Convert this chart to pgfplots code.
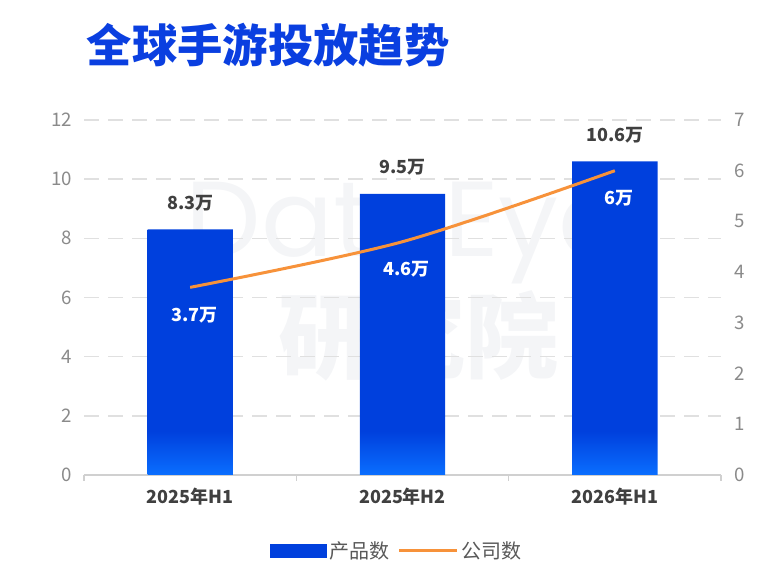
\documentclass[border=0pt]{standalone}
\usepackage{fontspec}
\setmainfont{Noto Sans CJK SC}
\newfontfamily\wmfont{Poppins}
\usepackage{pgfplots}
\pgfplotsset{compat=1.18}
\definecolor{titleblue}{HTML}{0A3FE0}
\definecolor{barblue}{HTML}{0040DD}
\definecolor{barlight}{HTML}{0A6EFF}
\definecolor{lineorange}{HTML}{F7923A}
\definecolor{tickgray}{HTML}{8A8A8A}
\definecolor{labgray}{HTML}{404040}
\definecolor{gridgray}{HTML}{E0E0E0}
\definecolor{axgray}{HTML}{D0D0D0}
\definecolor{wm}{HTML}{F4F5F7}
\pgfdeclareverticalshading{barshade}{100bp}{color(0bp)=(barlight); color(25bp)=(barlight); color(32bp)=(barblue); color(100bp)=(barblue)}
\begin{document}
\begin{tikzpicture}
\useasboundingbox (0,0) rectangle (582.75pt,429.75pt);
% watermark
\node[text=wm, font=\wmfont\fontsize{80}{80}\selectfont, anchor=base] at (304pt,237pt) {DataEye};
\node[text=wm, font=\bfseries\fontsize{70}{70}\selectfont] at (314pt,178pt) {研究院};
% title
\node[anchor=west, text=titleblue, font=\bfseries\fontsize{34}{36}\selectfont, inner sep=0pt] at (65pt,396pt) {全球手游投放趋势};
\begin{axis}[
  at={(63pt,73.5pt)}, anchor=south west,
  scale only axis, width=477.75pt, height=266.25pt,
  xmin=-0.5, xmax=2.5, ymin=0, ymax=12,
  ytick={0,2,4,6,8,10,12},
  xtick={0,1,2}, xticklabels={2025年H1,2025年H2,2026年H1},
  minor xtick={-0.5,0.5,1.5,2.5},
  separate axis lines,
  axis x line*=bottom, axis y line*=left,
  y axis line style={draw=none},
  x axis line style={draw=axgray, line width=1.2pt, -},
  tick align=outside,
  major tick length=0pt, minor tick length=4.5pt,
  minor tick style={draw=axgray, line width=1.2pt},
  ymajorgrids,
  grid style={draw=gridgray, line width=1.2pt, dash pattern=on 11pt off 7pt},
  /pgf/number format/assume math mode=true,
  yticklabel style={font=\fontsize{14}{16}\selectfont, text=tickgray, anchor=east, inner sep=0pt, xshift=-9pt},
  xticklabel style={font=\bfseries\fontsize{13.5}{16}\selectfont, text=labgray, anchor=center, yshift=-16.5pt},
  ybar, bar width=64pt,
  nodes near coords={\pgfmathprintnumber{\pgfplotspointmeta}万},
  every node near coord/.append style={font=\bfseries\fontsize{13.5}{16}\selectfont, text=labgray, anchor=center, yshift=20pt},
]
\addplot[draw=none, shading=barshade] coordinates {(0,8.3) (1,9.5) (2,10.6)};
\end{axis}
\begin{axis}[
  at={(63pt,73.5pt)}, anchor=south west,
  scale only axis, width=477.75pt, height=266.25pt,
  xmin=-0.5, xmax=2.5, ymin=0, ymax=7,
  ytick={0,1,2,3,4,5,6,7},
  axis x line=none,
  axis y line*=right,
  y axis line style={draw=none},
  major tick length=0pt,
  /pgf/number format/assume math mode=true,
  yticklabel style={font=\fontsize{14}{16}\selectfont, text=tickgray, anchor=west, inner sep=0pt, xshift=10pt},
  legend columns=2,
  legend style={at={(0.5,0)}, anchor=center, yshift=-57pt, xshift=-4pt, draw=none, fill=none,
    font=\fontsize{15}{16}\selectfont, text=black!65,
    /tikz/every even column/.append style={column sep=4pt}},
  legend cell align=left,
]
\addlegendimage{legend image code/.code={\fill[barblue] (0pt,-4.9pt) rectangle (42pt,4.9pt);}}
\addlegendentry{产品数}
\addplot[color=lineorange, line width=2.25pt, smooth, mark=none,
  nodes near coords={\pgfmathprintnumber{\pgfplotspointmeta}万},
  every node near coord/.append style={font=\bfseries\fontsize{13.5}{16}\selectfont, text=white, anchor=center, yshift=-21pt, xshift=3pt},
  legend image code/.code={\draw[lineorange, line width=2.25pt] (0pt,0pt) -- (43.5pt,0pt);}]
  coordinates {(0,3.7) (1,4.6) (2,6)};
\addlegendentry{公司数}
\end{axis}
\end{tikzpicture}
\end{document}
